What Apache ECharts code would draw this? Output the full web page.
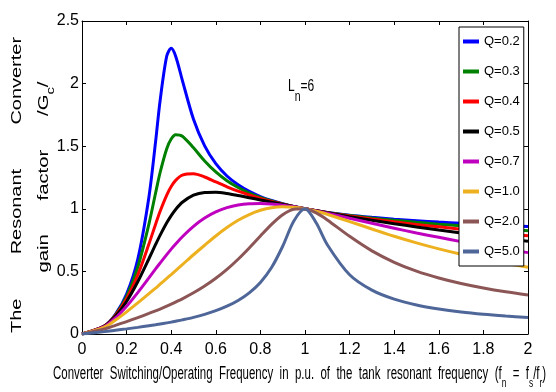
<!DOCTYPE html>
<html>
<head>
<meta charset="utf-8">
<script src="https://cdn.jsdelivr.net/npm/echarts@6/dist/echarts.min.js"></script>
<style>
  html, body { margin: 0; padding: 0; background: #fff; }
  #chart { width: 556px; height: 392px; }
</style>
</head>
<body>
<div id="chart"></div>
<script>
// normalised switching frequency fn
const fn = [0, 0.1, 0.15, 0.2, 0.25, 0.3, 0.33, 0.35, 0.38, 0.4, 0.42, 0.45, 0.5, 0.55, 0.6, 0.65, 0.7, 0.75, 0.8, 0.85, 0.9, 0.95, 1.0, 1.05, 1.1, 1.2, 1.3, 1.4, 1.5, 1.6, 1.7, 1.8, 1.9, 2.0]

// gain, one array per Q
const q02 = [0, 0.064, 0.157, 0.318, 0.596, 1.093, 1.536, 1.860, 2.220, 2.282, 2.219, 2.026, 1.715, 1.502, 1.360, 1.262, 1.192, 1.139, 1.098, 1.066, 1.040, 1.018, 1.000, 0.985, 0.971, 0.949, 0.932, 0.917, 0.905, 0.894, 0.884, 0.875, 0.867, 0.859]
const q03 = [0, 0.063, 0.153, 0.301, 0.533, 0.878, 1.126, 1.288, 1.480, 1.557, 1.591, 1.580, 1.487, 1.382, 1.294, 1.224, 1.170, 1.126, 1.091, 1.063, 1.038, 1.018, 1.000, 0.984, 0.970, 0.946, 0.926, 0.908, 0.892, 0.877, 0.864, 0.850, 0.838, 0.825]
const q04 = [0, 0.063, 0.148, 0.281, 0.471, 0.718, 0.877, 0.979, 1.110, 1.178, 1.227, 1.269, 1.280, 1.254, 1.215, 1.176, 1.141, 1.110, 1.082, 1.058, 1.037, 1.017, 1.000, 0.984, 0.969, 0.942, 0.918, 0.896, 0.875, 0.856, 0.837, 0.819, 0.801, 0.784]
const q05 = [0, 0.062, 0.142, 0.260, 0.417, 0.601, 0.715, 0.788, 0.888, 0.946, 0.995, 1.052, 1.109, 1.131, 1.133, 1.123, 1.107, 1.089, 1.071, 1.053, 1.035, 1.017, 1.000, 0.984, 0.968, 0.937, 0.909, 0.881, 0.855, 0.830, 0.806, 0.783, 0.761, 0.740]
const q07 = [0, 0.059, 0.129, 0.222, 0.331, 0.448, 0.520, 0.566, 0.634, 0.678, 0.719, 0.777, 0.860, 0.926, 0.975, 1.009, 1.030, 1.040, 1.042, 1.038, 1.029, 1.016, 1.000, 0.983, 0.964, 0.924, 0.884, 0.845, 0.807, 0.772, 0.738, 0.707, 0.677, 0.650]
const q10 = [0, 0.054, 0.111, 0.177, 0.248, 0.322, 0.367, 0.398, 0.444, 0.475, 0.507, 0.554, 0.633, 0.709, 0.783, 0.850, 0.908, 0.954, 0.988, 1.009, 1.016, 1.013, 1.000, 0.980, 0.956, 0.898, 0.839, 0.781, 0.728, 0.680, 0.637, 0.598, 0.564, 0.533]
const q20 = [0, 0.040, 0.069, 0.099, 0.131, 0.164, 0.185, 0.199, 0.222, 0.238, 0.255, 0.281, 0.329, 0.383, 0.445, 0.516, 0.597, 0.687, 0.783, 0.876, 0.953, 0.997, 1.000, 0.967, 0.911, 0.780, 0.664, 0.573, 0.502, 0.447, 0.403, 0.367, 0.337, 0.312]
const q50 = [0, 0.019, 0.030, 0.041, 0.053, 0.066, 0.074, 0.080, 0.089, 0.095, 0.102, 0.113, 0.133, 0.157, 0.186, 0.222, 0.268, 0.329, 0.412, 0.531, 0.701, 0.903, 1.000, 0.888, 0.713, 0.473, 0.350, 0.278, 0.232, 0.200, 0.176, 0.158, 0.144, 0.132]

const seriesNames = ['Q=0.2', 'Q=0.3', 'Q=0.4', 'Q=0.5', 'Q=0.7', 'Q=1.0', 'Q=2.0', 'Q=5.0']
const seriesValues = [q02, q03, q04, q05, q07, q10, q20, q50]
const seriesColors = ['#0000ff', '#008000', '#ff0000', '#000000', '#bf00bf', '#edb120', '#8c5656', '#4f6699']

const FONT = "'Liberation Sans', Arial, sans-serif"

const chart = echarts.init(document.getElementById('chart'))

function makeAxis(pos, showLabel, max, interval) {
  return {
    type: 'value',
    position: pos,
    min: 0,
    max: max,
    interval: interval,
    axisLine: { show: true, onZero: false, lineStyle: { color: '#000', width: 1 } },
    axisTick: { show: true, inside: true, length: 4, lineStyle: { color: '#000' } },
    axisLabel: { show: showLabel, color: '#000', fontFamily: FONT, fontSize: 16, margin: pos === 'bottom' ? 8 : 3 },
    splitLine: { show: false }
  }
}

const series = seriesNames.map((name, i) => ({
  name: name,
  type: 'line',
  data: fn.map((x, j) => [x, seriesValues[i][j]]),
  showSymbol: false,
  smooth: 0.3,
  lineStyle: { width: 3, color: seriesColors[i] },
  itemStyle: { color: seriesColors[i] }
}))

// rich styles: subscript token gets top padding so it sits below the baseline
function richStyle(size, subSize, pad) {
  return {
    m: { fontFamily: FONT, fontSize: size, verticalAlign: 'top' },
    s: { fontFamily: FONT, fontSize: subSize, verticalAlign: 'top', padding: [pad, 0, 0, 0] }
  }
}

chart.setOption({
  animation: false,
  backgroundColor: '#fff',
  grid: { left: 82, right: 28, top: 21, bottom: 58 },
  xAxis: [makeAxis('bottom', true, 2, 0.2), makeAxis('top', false, 2, 0.2)],
  yAxis: [makeAxis('left', true, 2.5, 0.5), makeAxis('right', false, 2.5, 0.5)],
  legend: {
    orient: 'vertical',
    left: 459,
    top: 27,
    icon: 'rect',
    itemWidth: 16,
    itemHeight: 4,
    itemGap: 17,
    padding: [8, 4, 8, 4],
    borderColor: '#000',
    borderWidth: 1,
    backgroundColor: '#fff',
    textStyle: { color: '#000', fontFamily: FONT, fontSize: 13 },
    data: seriesNames
  },
  graphic: [
    {
      type: 'text',
      x: 17,
      y: 185,
      rotation: Math.PI / 2,
      scaleX: 1.33,
      style: {
        text: 'The        Resonant        Converter',
        fontFamily: FONT,
        fontSize: 15,
        fill: '#000',
        align: 'center',
        verticalAlign: 'middle'
      }
    },
    {
      type: 'text',
      x: 46,
      y: 177,
      rotation: Math.PI / 2,
      scaleX: 1.35,
      style: {
        text: '{m|gain      factor      /G}{s|c}{m|/}',
        fill: '#000',
        align: 'center',
        verticalAlign: 'middle',
        rich: richStyle(15, 11, 9)
      }
    },
    {
      type: 'text',
      x: 288,
      y: 79,
      scaleX: 0.75,
      style: {
        text: '{m|L}{s|n}{m|=6}',
        fill: '#000',
        rich: richStyle(16, 14, 11)
      }
    },
    {
      type: 'text',
      x: 53,
      y: 365,
      scaleX: 0.638,
      style: {
        text: '{m|Converter  Switching/Operating  Frequency  in  p.u.  of  the  tank  resonant  frequency  (f}{s|n}{m|  =  f}{s|s}{m|/f}{s|r}{m|)}',
        fill: '#000',
        rich: richStyle(18, 13, 12)
      }
    }
  ],
  series: series
})
</script>
</body>
</html>
